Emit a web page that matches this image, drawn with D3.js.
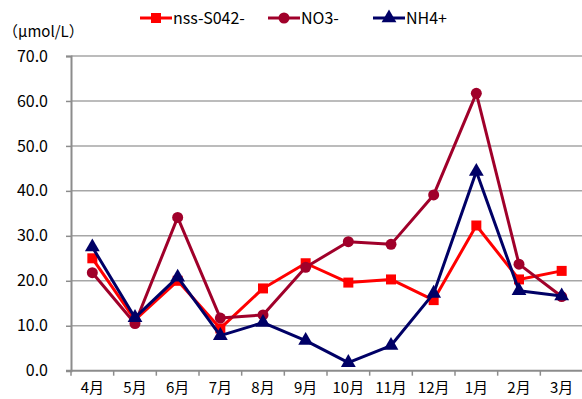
<!DOCTYPE html>
<html>
<head>
<meta charset="utf-8">
<script src="https://cdn.jsdelivr.net/npm/d3@7"></script>
<style>
  html, body { margin: 0; padding: 0; background: #fff; }
  svg { display: block; }
  text { font-family: "Noto Sans CJK JP", "DejaVu Sans", sans-serif; fill: #000; }
</style>
</head>
<body>
<svg id="chart" width="582" height="399"></svg>
<script>
// Monthly mean concentrations (μmol/L)
const months = ["4月", "5月", "6月", "7月", "8月", "9月", "10月", "11月", "12月", "1月", "2月", "3月"];
const nssSO4 = [25.0, 11.3, 20.0, 9.4, 18.3, 23.9, 19.6, 20.3, 15.7, 32.3, 20.3, 22.2];
const no3    = [21.8, 10.5, 34.1, 11.7, 12.4, 23.0, 28.7, 28.1, 39.1, 61.7, 23.7, 16.5];
const nh4    = [27.5, 11.8, 20.8, 7.8, 10.7, 6.7, 1.8, 5.6, 17.2, 44.3, 17.8, 16.6];
const yTicks = [0, 10, 20, 30, 40, 50, 60, 70];
const seriesNames = ["nss-S042-", "NO3-", "NH4+"];

const series = [
  { name: seriesNames[0], values: nssSO4, color: "#ff0000", symbol: d3.symbolSquare, size: 100 },
  { name: seriesNames[1], values: no3,    color: "#a0002a", symbol: d3.symbolCircle, size: 95 },
  { name: seriesNames[2], values: nh4,    color: "#000066", symbol: d3.symbolTriangle, size: 95 }
];

const svg = d3.select("#chart");
const plotLeft = 71, plotRight = 583, plotTop = 56, plotBottom = 370.7;

const x = d3.scaleBand().domain(months).range([plotLeft, plotRight]);
const y = d3.scaleLinear().domain([0, 70]).range([plotBottom, plotTop]);
const cx = m => x(m) + x.bandwidth() / 2;

// horizontal gridlines
svg.append("g")
  .selectAll("line")
  .data(yTicks.filter(t => t > 0))
  .join("line")
  .attr("x1", plotLeft).attr("x2", 582)
  .attr("y1", d => y(d)).attr("y2", d => y(d))
  .attr("stroke", "#a6a6a6")
  .attr("stroke-width", 1.5);

// y axis
const yAxis = svg.append("g")
  .attr("transform", `translate(${plotLeft},0)`)
  .call(d3.axisLeft(y).tickValues(yTicks).tickSize(5).tickPadding(18).tickFormat(d3.format(".1f")));
yAxis.select(".domain").attr("stroke", "#8c8c8c").attr("stroke-width", 2);
yAxis.selectAll(".tick line").attr("stroke", "#8c8c8c").attr("stroke-width", 1.5);
yAxis.selectAll(".tick text")
  .attr("font-size", 16)
  .attr("font-family", "'Noto Sans CJK JP', sans-serif")
  .attr("fill", "#000");

// x axis line and boundary ticks
const xg = svg.append("g");
xg.append("line")
  .attr("x1", plotLeft - 5).attr("x2", 582)
  .attr("y1", plotBottom).attr("y2", plotBottom)
  .attr("stroke", "#8c8c8c").attr("stroke-width", 2);
xg.selectAll("line.tk")
  .data(months.map(m => x(m)).concat([x.range()[1]]))
  .join("line")
  .attr("class", "tk")
  .attr("x1", d => d).attr("x2", d => d)
  .attr("y1", plotBottom).attr("y2", plotBottom + 5)
  .attr("stroke", "#8c8c8c").attr("stroke-width", 1.5);
xg.selectAll("text")
  .data(months)
  .join("text")
  .attr("x", d => cx(d))
  .attr("y", 393)
  .attr("text-anchor", "middle")
  .attr("font-size", 15)
  .text(d => d);

// y axis title
svg.append("text")
  .attr("x", 3).attr("y", 37)
  .attr("font-size", 15)
  .text("（μmol/L）");

// lines and markers
const line = d3.line().x((d, i) => cx(months[i])).y(d => y(d));
series.forEach(s => {
  const g = svg.append("g");
  g.append("path")
    .datum(s.values)
    .attr("d", line)
    .attr("fill", "none")
    .attr("stroke", s.color)
    .attr("stroke-width", 3)
    .attr("stroke-linejoin", "round");
  g.selectAll("path.mk")
    .data(s.values)
    .join("path")
    .attr("class", "mk")
    .attr("d", d3.symbol().type(s.symbol).size(s.size))
    .attr("transform", (d, i) => `translate(${cx(months[i])},${y(d)})`)
    .attr("fill", s.color);
});

// legend
const legendX = [140, 268, 373];
series.forEach((s, i) => {
  const g = svg.append("g").attr("transform", `translate(${legendX[i]},18)`);
  g.append("line")
    .attr("x1", 0).attr("x2", 32)
    .attr("stroke", s.color).attr("stroke-width", 3);
  g.append("path")
    .attr("d", d3.symbol().type(s.symbol).size(s.size))
    .attr("transform", "translate(16,0)")
    .attr("fill", s.color);
  g.append("text")
    .attr("x", 33).attr("y", 6)
    .attr("font-size", 16)
    .text(s.name);
});
</script>
</body>
</html>
